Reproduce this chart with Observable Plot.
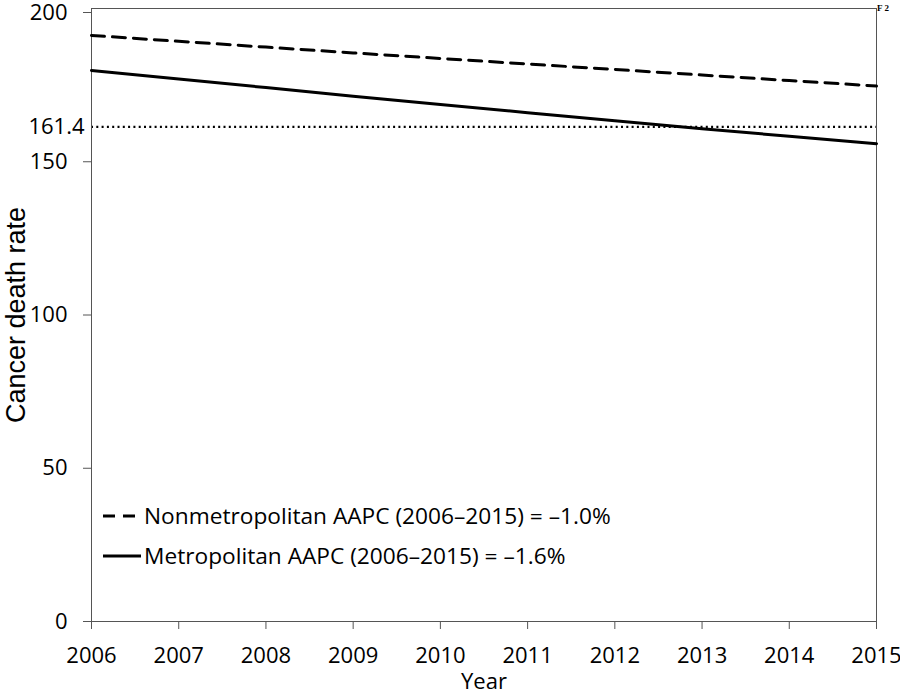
<!DOCTYPE html>
<html>
<head>
<meta charset="utf-8">
<script src="https://cdn.jsdelivr.net/npm/d3@7"></script>
<script src="https://cdn.jsdelivr.net/npm/@observablehq/plot@0.6"></script>
<style>
  html, body { margin: 0; padding: 0; background: #fff; }
  #wrap { position: relative; width: 900px; height: 693px; }
  .legend { position: absolute; left: 103px; font-family: "Open Sans", sans-serif; font-size: 22.7px; color: #000; display: flex; align-items: center; white-space: nowrap; }
  .legend svg { margin-right: 3px; }
  #f2 { position: absolute; left: 877px; top: 3px; font-family: "Liberation Serif", serif; font-weight: bold; font-size: 9px; }
</style>
</head>
<body>
<div id="wrap"></div>
<script>
const years = [2006, 2007, 2008, 2009, 2010, 2011, 2012, 2013, 2014, 2015];
const nonmetro = [191.2, 189.3, 187.4, 185.5, 183.7, 181.9, 180.1, 178.3, 176.5, 174.7];
const metro = [179.8, 177.0, 174.2, 171.4, 168.7, 166.0, 163.4, 160.8, 158.3, 155.9];
const reference = 161.4;
const yTicks = [0, 50, 100, 150];
const yTop = [200];
const seriesNames = ["Nonmetropolitan AAPC (2006\u20132015) = \u20131.0%", "Metropolitan AAPC (2006\u20132015) = \u20131.6%"];

const nonData = years.map((y, i) => ({year: y, rate: nonmetro[i]}));
const metData = years.map((y, i) => ({year: y, rate: metro[i]}));

const axisColor = "#555";
const chart = Plot.plot({
  width: 900,
  height: 693,
  marginLeft: 91,
  marginRight: 24,
  marginTop: 8,
  marginBottom: 72,
  style: {fontFamily: "Open Sans, sans-serif", fontSize: "22px", color: "#000", background: "#fff", overflow: "visible"},
  x: {domain: [2006, 2015]},
  y: {domain: [0, 200]},
  marks: [
    Plot.ruleY([reference], {stroke: "#000", strokeWidth: 2.2, strokeDasharray: "2,3.3"}),
    Plot.ruleY([200], {stroke: axisColor, strokeWidth: 1}),
    Plot.ruleX([2015], {stroke: axisColor, strokeWidth: 1}),
    Plot.ruleX([2006], {stroke: axisColor, strokeWidth: 1}),
    Plot.ruleY([0], {stroke: axisColor, strokeWidth: 1}),
    Plot.axisX({ticks: years, tickFormat: "d", tickSize: 8, tickPadding: 18, stroke: axisColor, label: "Year", labelAnchor: "center", labelOffset: 67, labelArrow: "none", fontSize: 22}),
    Plot.axisY({ticks: yTicks, tickSize: 8, tickPadding: 16, stroke: axisColor, label: null, fontSize: 22}),
    Plot.axisY({ticks: yTop, tickSize: 8, tickPadding: 16, stroke: axisColor, label: null, fontSize: 22, dy: 4}),
    Plot.axisY({ticks: [reference], tickFormat: ".1f", tickSize: 0, tickPadding: 7, label: null, fontSize: 22}),
    Plot.axisY({ticks: [], label: "Cancer death rate", labelAnchor: "center", labelOffset: 86, labelArrow: "none", fontSize: 27}),
    Plot.line(nonData, {x: "year", y: "rate", stroke: "#000", strokeWidth: 3, strokeDasharray: "13,8"}),
    Plot.line(metData, {x: "year", y: "rate", stroke: "#000", strokeWidth: 3})
  ]
});
const wrap = document.getElementById("wrap");
wrap.appendChild(chart);

// y-axis title in a sans font like Arial
chart.querySelectorAll("text").forEach(t => {
  if (t.textContent === "Cancer death rate") {
    t.setAttribute("font-family", "Liberation Sans, Arial, sans-serif");
    t.style.fontFamily = "Liberation Sans, Arial, sans-serif";
  }
});

function addLegend(name, dash, top) {
  const d = document.createElement("div");
  d.className = "legend";
  d.style.top = top + "px";
  d.innerHTML = `<svg width="38" height="6"><line x1="0" x2="38" y1="3" y2="3" stroke="#000" stroke-width="3" ${dash ? 'stroke-dasharray="12,8"' : ''}/></svg><span>${name}</span>`;
  wrap.appendChild(d);
}
addLegend(seriesNames[0], true, 500);
addLegend(seriesNames[1], false, 540);

const f2 = document.createElement("div");
f2.id = "f2";
f2.textContent = "F 2";
wrap.appendChild(f2);
</script>
</body>
</html>
